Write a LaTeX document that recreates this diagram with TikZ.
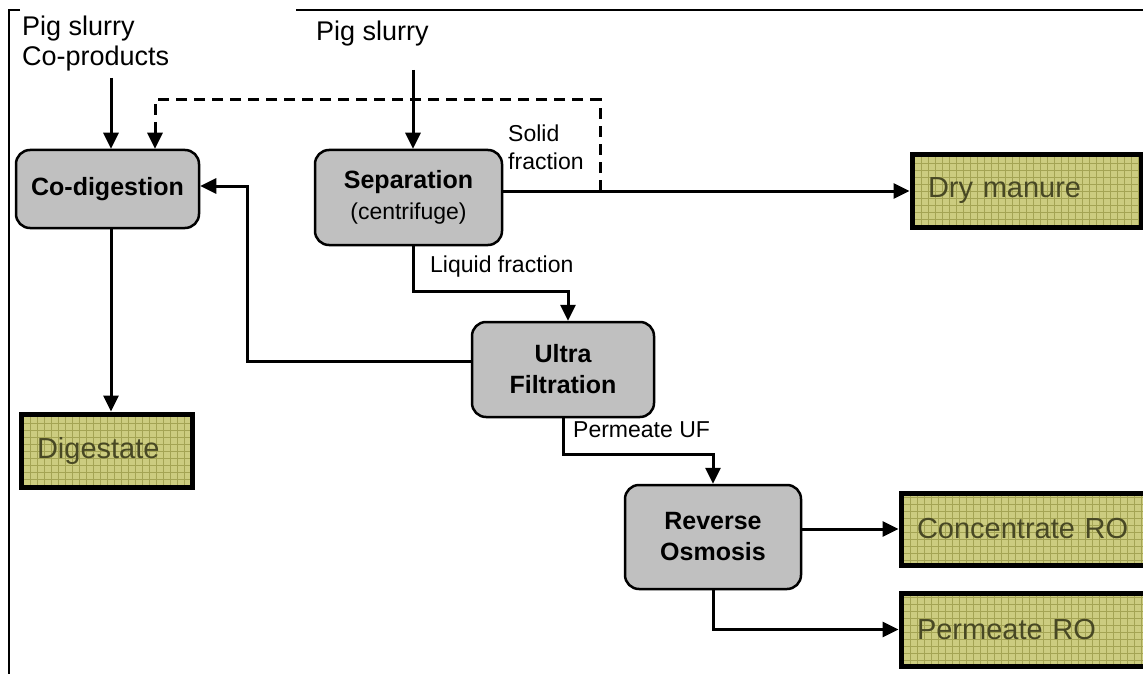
\documentclass[tikz,border=0pt]{standalone}
\usepackage{fontspec}
\setmainfont{Liberation Sans}
\usetikzlibrary{arrows.meta}
\definecolor{boxgrey}{RGB}{192,192,192}
\definecolor{outfill}{RGB}{204,204,128}
\definecolor{outgrid}{RGB}{164,164,84}
\definecolor{outtext}{RGB}{72,72,36}
\begin{document}
\begin{tikzpicture}[
				x=1pt, y=-1pt,
				every node/.style={
						inner sep=0pt,
					},
				procbox/.style={draw, line width=2.5pt, fill=boxgrey, rounded corners=14pt, align=center,
						font=\fontsize{25}{31}\selectfont\bfseries},
				outbox/.style={draw, line width=5pt, fill=outfill, text=outtext, align=left, inner xsep=16pt,
						font=\fontsize{29}{34}\selectfont,
						path picture={\draw[outgrid, line width=0.5pt] (path picture bounding box.south west) grid[step=7pt] (path picture bounding box.north east);}},
				flowtext/.style={font=\fontsize{23}{28}\selectfont, align=left},
				feedtext/.style={font=\fontsize{27}{30}\selectfont, align=left},
				flow/.style={line width=3pt, -{Triangle[length=16pt,width=15pt]}},
				frameline/.style={line width=1.5pt},]
			\clip (0,0) rectangle (1143,674);
			\draw [frameline] (20,10) -- (9,10) -- (9,674);
			\draw [frameline] (296,10) -- (1143,10);
			\node[feedtext, anchor=north west] (feedA) at (22,16) {Pig slurry\\Co-products};
			\node[feedtext, anchor=base west] (feedB) at (316,41) {Pig slurry};
			\node[procbox, minimum width=183pt, minimum height=78pt] (codig) at (107.5,189) {Co-digestion};
			\node[procbox, minimum width=187pt, minimum height=95pt] (sep) at (408.5,197.5) {Separation\\{\mdseries\fontsize{23}{28}\selectfont(centrifuge)}};
			\node[procbox, minimum width=182pt, minimum height=95pt] (uf) at (563,369.5) {Ultra\\Filtration};
			\node[procbox, minimum width=176pt, minimum height=104pt] (ro) at (713,537) {Reverse\\Osmosis};
			\node[outbox, text width=197pt, minimum height=72pt] (dry) at (1026.5,191) {Dry manure};
			\node[outbox, text width=139pt, minimum height=73pt] (dig) at (106.5,450.5) {Digestate};
			\node[outbox, text width=217pt, minimum height=72pt] (conc) at (1025.5,529) {Concentrate RO};
			\node[outbox, text width=217pt, minimum height=73pt] (perm) at (1025.5,629.5) {Permeate RO};
			\node[flowtext, anchor=north west] (solid) at (508,125) {Solid\\fraction};
			\node[flowtext, anchor=base west] (liquid) at (430,272) {Liquid fraction};
			\node[flowtext, anchor=base west] (permuf) at (573,437) {Permeate UF};
			\coordinate (inA) at (111,78);
			\coordinate (inB) at (413,70);
			\coordinate (tap) at (600,191);
			\coordinate (recycle) at (155,100);
			\coordinate (back) at (247,186);
			\draw [flow] (inA) -- (inA |- codig.north);
			\draw [flow] (inB) -- (inB |- sep.north);
			\draw [flow, dash pattern=on 11pt off 7pt] (tap) |- (recycle) -- (recycle |- codig.north);
			\draw [flow] (sep.east |- dry.west) -- (dry.west);
			\draw [flow] (inB |- sep.south) -- ++(0,45) -| ([xshift=5pt]uf.north);
			\draw [flow] ([yshift=8.5pt]uf.west) -| (back) -- (back -| codig.east);
			\draw [flow] (inA |- codig.south) -- (inA |- dig.north);
			\draw [flow] (uf.south) -- ++(0,36) -| (ro.north);
			\draw [flow] (ro.east |- conc.west) -- (conc.west);
			\draw [flow] (ro.south) |- (perm.west);
		\end{tikzpicture}
\end{document}
